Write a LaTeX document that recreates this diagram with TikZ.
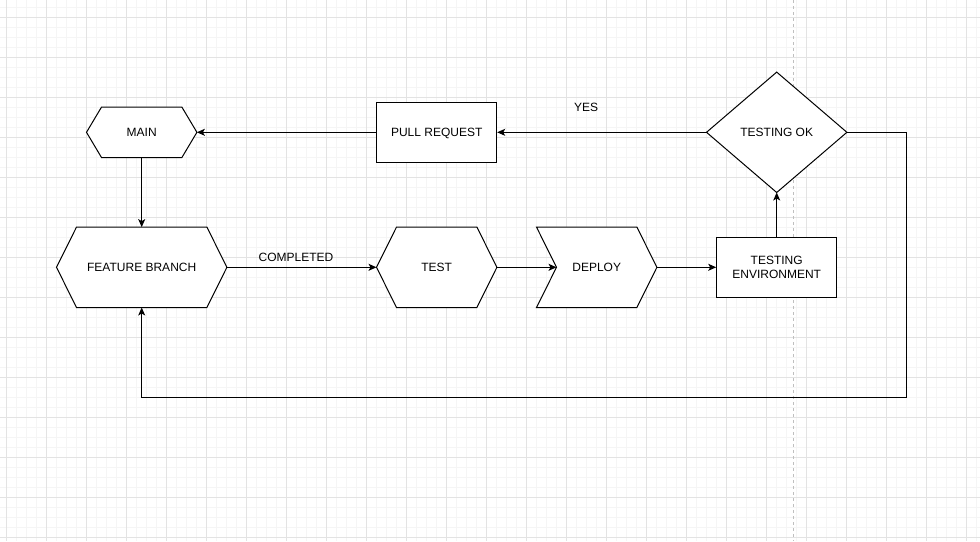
\documentclass[tikz,border=0pt]{standalone}
\usepackage{fontspec}
\setmainfont{Liberation Sans}
\usetikzlibrary{arrows.meta,calc}
\pgfdeclarelayer{grid}
\pgfdeclarelayer{fills}
\pgfsetlayers{grid,fills,main}
\tikzset{
  minorgrid/.style={draw=black!4, line width=1pt},
  majorgrid/.style={draw=black!11, line width=1pt},
  pagebreak/.style={draw=black!25, line width=1pt, dash pattern=on 3pt off 3pt},
  txt/.style={font=\fontsize{12}{14}\selectfont, inner sep=0pt, align=center, text depth=0pt},
  box/.style={txt, draw=black, fill=white, line width=1pt, minimum width=120pt, minimum height=60pt},
  slot/.style={txt, draw=none},
  outline/.style={draw=black, fill=white, line width=1pt, line join=miter},
  flow/.style={draw=black, line width=1pt, -{Stealth[length=8pt,width=7pt,inset=2pt]}},
}
% hexagon outline around a node: name, horizontal inset
\newcommand\hexoutline[2]{%
  \path[outline] ([xshift=#2]#1.north west) -- ([xshift=-#2]#1.north east) -- (#1.east)
    -- ([xshift=-#2]#1.south east) -- ([xshift=#2]#1.south west) -- (#1.west) -- cycle;}
\begin{document}
\begin{tikzpicture}[x=1pt, y=-1pt]
  \useasboundingbox (0,0) rectangle (980,541);
  \begin{pgfonlayer}{grid}
    \fill[white] (0,0) rectangle (980,541);
    \foreach \i in {0,...,97} \draw[minorgrid] ({6.7+10*\i},0) -- ({6.7+10*\i},541);
    \foreach \i in {0,...,53} \draw[minorgrid] (0,{7.3+10*\i}) -- (980,{7.3+10*\i});
    \foreach \i in {0,...,24} \draw[majorgrid] ({6.7+40*\i},0) -- ({6.7+40*\i},541);
    \foreach \i in {0,...,13} \draw[majorgrid] (0,{17.3+40*\i}) -- (980,{17.3+40*\i});
    \draw[pagebreak] (793.3,0) -- (793.3,541);
  \end{pgfonlayer}

  % nodes
  \node[slot, minimum width=110pt, minimum height=50pt] (main) at (141.7,132.3) {MAIN};
  \node[slot, minimum width=170pt, minimum height=80pt] (feature) at (141.7,267.3) {FEATURE BRANCH};
  \node[box] (pr) at (436.7,132.3) {PULL REQUEST};
  \node[slot, minimum width=140pt, minimum height=120pt] (ok) at (776.7,132.3) {TESTING OK};
  \node[slot, minimum width=120pt, minimum height=80pt] (test) at (436.7,267.3) {TEST};
  \node[slot, minimum width=120pt, minimum height=80pt] (deploy) at (596.7,267.3) {DEPLOY};
  \node[box] (env) at (776.7,267.3) {TESTING\\ENVIRONMENT};

  % outlines of the non-rectangular shapes
  \begin{pgfonlayer}{fills}
    \hexoutline{main}{15pt}
    \hexoutline{feature}{20pt}
    \hexoutline{test}{20pt}
    \path[outline] (deploy.north west) -- ([xshift=-20pt]deploy.north east) -- (deploy.east)
      -- ([xshift=-20pt]deploy.south east) -- (deploy.south west) -- ([xshift=20pt]deploy.west) -- cycle;
    \path[outline] (ok.north) -- (ok.east) -- (ok.south) -- (ok.west) -- cycle;
  \end{pgfonlayer}

  \coordinate (dnotch) at ([xshift=20pt]deploy.west);
  \coordinate (loopR) at (906.7,397.3);

  % connectors
  \draw[flow] (pr.west) -- (main.east);
  \draw[flow] (main.south) -- (feature.north);
  \draw[flow] (feature.east) -- (test.west);
  \draw[flow] (test.east) -- (dnotch);
  \draw[flow] (deploy.east) -- (env.west);
  \draw[flow] (env.north) -- (ok.south);
  \draw[flow] (ok.west) -- (pr.east);
  \draw[flow] (ok.east) -| (loopR) -| (feature.south);

  % edge labels
  \node[txt] (yes) at (586,107.3) {YES};
  \node[txt] (completed) at (296,257.3) {COMPLETED};
\end{tikzpicture}
\end{document}
